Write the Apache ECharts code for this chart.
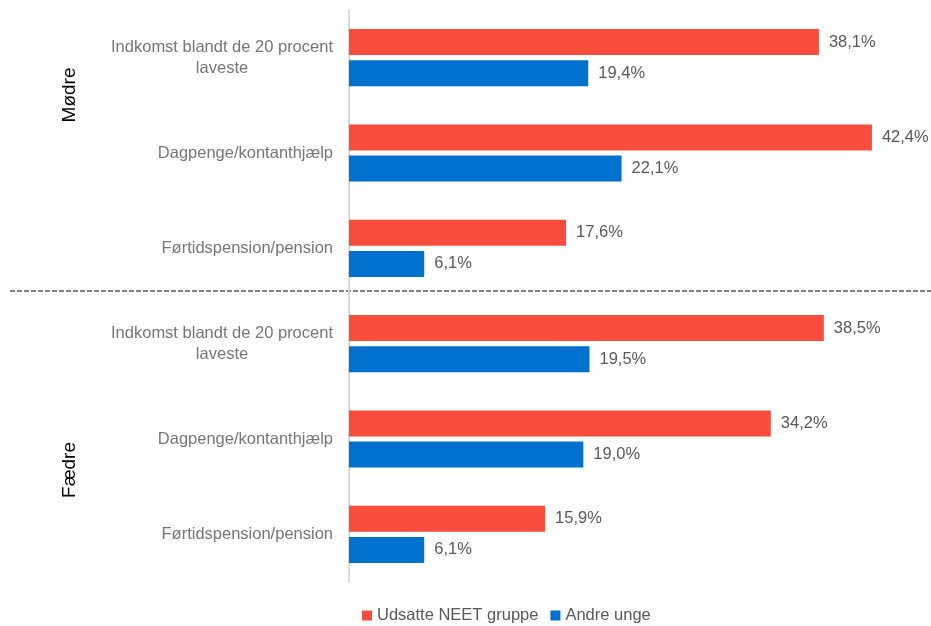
<!DOCTYPE html>
<html>
<head>
<meta charset="utf-8">
<script src="https://cdn.jsdelivr.net/npm/echarts@6/dist/echarts.min.js"></script>
<style>
  html, body { margin: 0; padding: 0; background: #fff; }
  #chart { width: 931px; height: 626px; }
</style>
</head>
<body>
<div id="chart"></div>
<script>
// kategorier, oppefra og ned (Mødre 3 stk, Fædre 3 stk)
const categories = [
  'Indkomst blandt de 20 procent\nlaveste',
  'Dagpenge/kontanthjælp',
  'Førtidspension/pension',
  'Indkomst blandt de 20 procent\nlaveste',
  'Dagpenge/kontanthjælp',
  'Førtidspension/pension'
];
const groups = ['Mødre', 'Fædre'];
const seriesNames = ['Udsatte NEET gruppe', 'Andre unge'];
const udsatte = [38.1, 42.4, 17.6, 38.5, 34.2, 15.9];
const andre = [19.4, 22.1, 6.1, 19.5, 19.0, 6.1];

const red = '#F84C3C';
const blue = '#0072CE';
const font = '"Liberation Sans", Arial, sans-serif';
const fs = 16.5;

const chart = echarts.init(document.getElementById('chart'));

function pct(p) {
  return p.value.toFixed(1).replace('.', ',') + '%';
}

function catLabel(v) {
  // flerlinjede labels centreres i en fast bredde
  const lines = v.split('\n');
  if (lines.length > 1) {
    return lines.map(l => '{w|' + l + '}').join('\n');
  }
  return v;
}

const valueLabel = {
  show: true,
  position: 'right',
  distance: 10,
  color: '#595959',
  fontSize: fs,
  fontFamily: font,
  formatter: pct
};

const option = {
  animation: false,
  textStyle: { fontFamily: font },
  grid: { left: 349, right: 27, top: 10, height: 572 },
  legend: {
    top: 607,
    left: 362,
    padding: 0,
    itemWidth: 10,
    itemHeight: 10,
    itemGap: 12,
    icon: 'rect',
    textStyle: { color: '#595959', fontSize: fs, fontFamily: font },
    data: seriesNames
  },
  xAxis: {
    type: 'value',
    min: 0,
    max: 45,
    show: false,
    splitLine: { show: false }
  },
  yAxis: {
    type: 'category',
    inverse: true,
    data: categories,
    axisLine: { lineStyle: { color: '#D9D9D9', width: 2 } },
    axisTick: { show: false },
    axisLabel: {
      margin: 16,
      color: '#767676',
      fontSize: fs,
      fontFamily: font,
      lineHeight: 21,
      formatter: catLabel,
      rich: {
        w: { width: 222, align: 'center', color: '#767676', fontSize: fs, fontFamily: font, lineHeight: 21 }
      }
    }
  },
  series: [
    {
      name: seriesNames[0],
      type: 'bar',
      data: udsatte,
      barWidth: 26,
      barGap: '20%',
      itemStyle: { color: red },
      label: valueLabel
    },
    {
      name: seriesNames[1],
      type: 'bar',
      data: andre,
      barWidth: 26,
      barGap: '20%',
      itemStyle: { color: blue },
      label: valueLabel
    }
  ],
  graphic: [
    {
      type: 'line',
      shape: { x1: 10, y1: 291, x2: 931, y2: 291 },
      style: { stroke: '#000', lineWidth: 1, lineDash: [5, 2] }
    },
    {
      type: 'text',
      x: 70,
      y: 95,
      rotation: Math.PI / 2,
      style: { text: groups[0], fill: '#000', font: '19px ' + font, align: 'center', verticalAlign: 'middle' }
    },
    {
      type: 'text',
      x: 70,
      y: 470,
      rotation: Math.PI / 2,
      style: { text: groups[1], fill: '#000', font: '19px ' + font, align: 'center', verticalAlign: 'middle' }
    }
  ]
};

chart.setOption(option);
</script>
</body>
</html>
